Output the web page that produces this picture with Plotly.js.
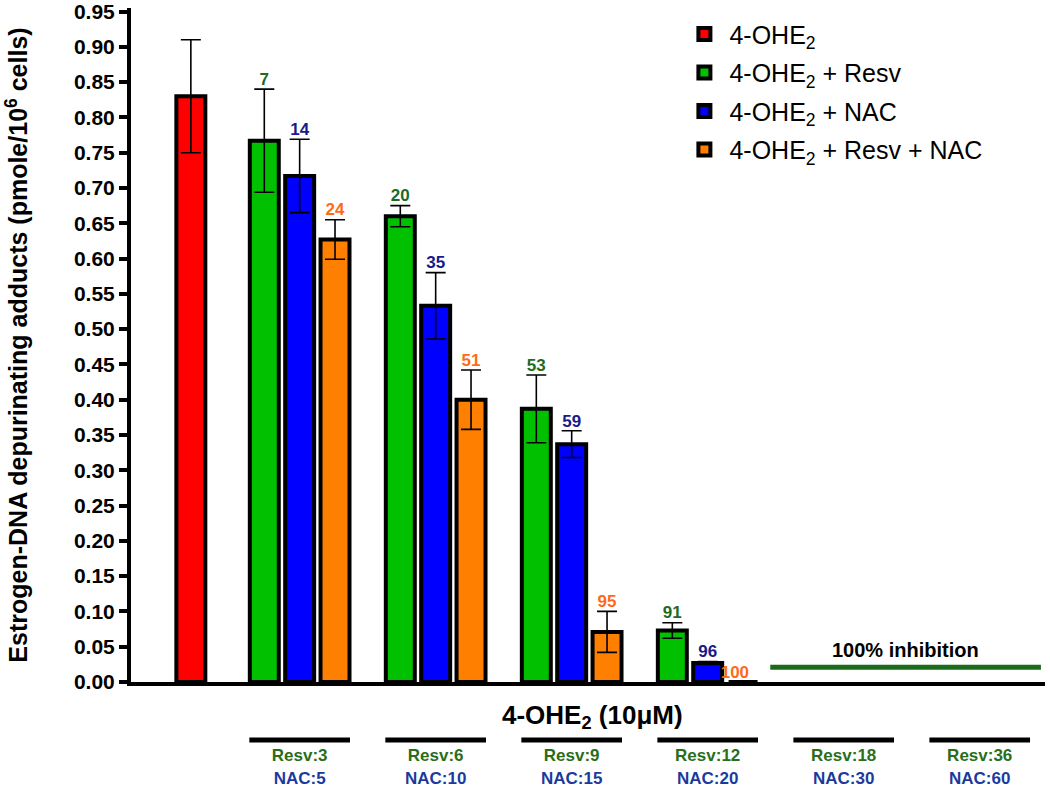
<!DOCTYPE html>
<html>
<head>
<meta charset="utf-8">
<script src="https://cdn.plot.ly/plotly-3.0.1.min.js"></script>
<style>html,body{margin:0;padding:0;background:#fff;}#chart{width:1050px;height:790px;}</style>
</head>
<body>
<div id="chart"></div>
<script>
// ---- data ----
const resvDose = [3, 6, 9, 12, 18, 36];
const nacDose = [5, 10, 15, 20, 30, 60];
const categories = ['4-OHE2 alone'].concat(resvDose.map((r, i) => 'Resv:' + r + ' NAC:' + nacDose[i]));

const yTickValues = [0, 0.05, 0.10, 0.15, 0.20, 0.25, 0.30, 0.35, 0.40, 0.45, 0.50, 0.55, 0.60, 0.65, 0.70, 0.75, 0.80, 0.85, 0.90, 0.95];
const yTickLabels = ['0.00', '0.05', '0.10', '0.15', '0.20', '0.25', '0.30', '0.35', '0.40', '0.45', '0.50', '0.55', '0.60', '0.65', '0.70', '0.75', '0.80', '0.85', '0.90', '0.95'];

const ohe2Value = [0.83];
const ohe2Err = [0.08];

const resvValues = [0.767, 0.66, 0.387, 0.073];
const resvErr = [0.073, 0.015, 0.048, 0.011];
const resvInhib = ['7', '20', '53', '91'];

const nacValues = [0.717, 0.533, 0.337, 0.027];
const nacErr = [0.052, 0.047, 0.019, 0.002];
const nacInhib = ['14', '35', '59', '96'];

const bothValues = [0.627, 0.40, 0.071, 0.0];
const bothErr = [0.028, 0.042, 0.029, 0.0];
const bothInhib = ['24', '51', '95', '100'];

const fullInhibitionText = '100% inhibition';
const fullInhibitionLevel = 0.021;

// ---- styling ----
const FONT = 'Arial, "Liberation Sans", sans-serif';
const W = 0.213;      // bar width (category units)
const SLOT = 0.26;    // slot spacing
const XRANGE = [-0.24, 6.48];
const treatedCats = categories.slice(1, 1 + resvValues.length);

function barTrace(name, x, y, err, color, center) {
  return {
    type: 'bar', name: name, x: x, y: y, legendgroup: name,
    width: W, offset: center - W / 2,
    marker: {color: color, line: {color: '#000', width: 4}},
    error_y: {type: 'data', array: err, visible: true, color: '#000', thickness: 1.6, width: 10},
    hoverinfo: 'skip'
  };
}

// percent-inhibition labels, placed above each error bar (on a hidden linear x axis
// that shares the category axis' range, so index + slot offset lands on the bar centre)
function labelTrace(vals, errs, labels, color, center) {
  return {
    type: 'scatter', mode: 'text', xaxis: 'x2', yaxis: 'y', showlegend: false, hoverinfo: 'skip',
    cliponaxis: false,
    x: vals.map((v, i) => i + 1 + center - (v === 0 ? 0.06 : 0)),
    y: vals.map((v, i) => v + errs[i]),
    text: labels, textposition: 'top center',
    textfont: {family: FONT, size: 17, color: color, weight: 'bold'}
  };
}

const data = [
  barTrace('4-OHE<sub>2</sub>', [categories[0]], ohe2Value, ohe2Err, '#ff0000', 0.2),
  barTrace('4-OHE<sub>2</sub> + Resv', treatedCats, resvValues, resvErr, '#00c000', -SLOT),
  barTrace('4-OHE<sub>2</sub> + NAC', treatedCats, nacValues, nacErr, '#0000ff', 0),
  barTrace('4-OHE<sub>2</sub> + Resv + NAC', treatedCats, bothValues, bothErr, '#ff8000', SLOT),
  labelTrace(resvValues, resvErr, resvInhib, '#1e6b1e', -SLOT),
  labelTrace(nacValues, nacErr, nacInhib, '#1a1a8c', 0),
  labelTrace(bothValues, bothErr, bothInhib, '#ff6a1a', SLOT)
];

// group dose labels as x-axis tick labels
const groupTickText = resvDose.map((r, i) =>
  '<span style="color:#2a6e1a">Resv:' + r + '</span><br><span style="color:#1c3a9e">NAC:' + nacDose[i] + '</span>');

const annotations = [];
const shapes = [];
resvDose.forEach((r, i) => {
  shapes.push({type: 'line', xref: 'x', yref: 'paper', x0: i + 1 - 0.37, x1: i + 1 + 0.37,
    y0: -0.086, y1: -0.086, line: {color: '#000', width: 5}});
});

shapes.push({type: 'line', xref: 'x', yref: 'y', x0: 4.46, x1: 6.45,
  y0: fullInhibitionLevel, y1: fullInhibitionLevel, line: {color: '#1a6b1a', width: 5}});
annotations.push({x: (4.46 + 6.45) / 2, y: fullInhibitionLevel, xref: 'x', yref: 'y', yanchor: 'bottom', yshift: 4,
  showarrow: false, text: fullInhibitionText, font: {family: FONT, size: 20, color: '#000', weight: 'bold'}});

// x-axis title (sits between axis and dose labels)
annotations.push({x: 0.505, y: -0.051, xref: 'paper', yref: 'paper', yanchor: 'middle', showarrow: false,
  text: '4-OHE<sub>2</sub> (10μM)', font: {family: FONT, size: 26, color: '#000', weight: 'bold'}});

const layout = {
  width: 1050, height: 790,
  margin: {l: 131, r: 5, t: 8, b: 108},
  paper_bgcolor: '#fff', plot_bgcolor: '#fff',
  barmode: 'overlay',
  showlegend: true,
  legend: {x: 0.6, y: 0.995, xanchor: 'left', yanchor: 'top', bgcolor: 'rgba(0,0,0,0)',
    traceorder: 'grouped', tracegroupgap: 3,
    font: {family: FONT, size: 25, color: '#000'}, itemwidth: 40},
  xaxis: {
    type: 'category', categoryorder: 'array', categoryarray: categories,
    range: XRANGE, ticks: '', showgrid: false, zeroline: false,
    tickmode: 'array', tickvals: categories.slice(1), ticktext: groupTickText,
    ticklabelstandoff: 55, tickangle: 0,
    tickfont: {family: FONT, size: 17, color: '#000', weight: 'bold'},
    showline: true, linecolor: '#000', linewidth: 4
  },
  xaxis2: {overlaying: 'x', range: XRANGE, visible: false, showgrid: false, zeroline: false},
  yaxis: {
    range: [0, 0.955], tickmode: 'array', tickvals: yTickValues, ticktext: yTickLabels,
    ticklabeloverflow: 'allow',
    ticks: 'outside', ticklen: 8, tickwidth: 4, tickcolor: '#000',
    showline: true, linecolor: '#000', linewidth: 4, showgrid: false, zeroline: false,
    tickfont: {family: FONT, size: 21, color: '#000', weight: 'bold'},
    title: {text: 'Estrogen-DNA depurinating adducts (pmole/10<sup>6</sup> cells)', standoff: 40,
      font: {family: FONT, size: 25, color: '#000', weight: 'bold'}}
  },
  shapes: shapes,
  annotations: annotations
};

Plotly.newPlot('chart', data, layout, {displayModeBar: false, staticPlot: true});
</script>
</body>
</html>
